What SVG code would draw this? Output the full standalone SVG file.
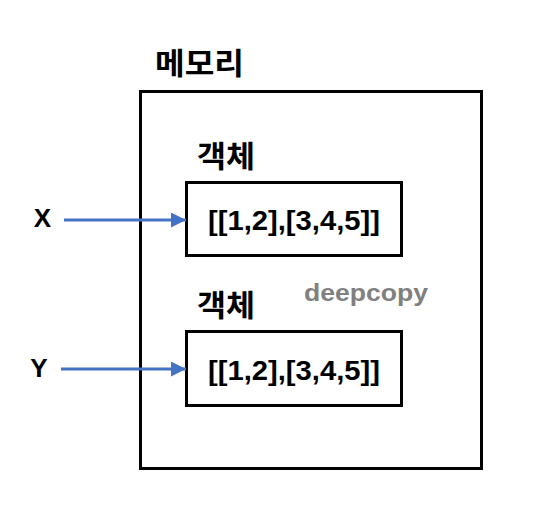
<svg xmlns="http://www.w3.org/2000/svg" width="544" height="510" viewBox="0 0 544 510">
<defs>
<style>
.box{fill:none;stroke:#000;stroke-width:3}
.kr{font-family:"Noto Sans CJK KR","Noto Sans",sans-serif;font-weight:bold;font-size:30px;fill:#000}
.lt{font-family:"Liberation Sans",Arial,sans-serif;font-weight:bold;font-size:28px;fill:#000}
.var{font-family:"Liberation Sans",Arial,sans-serif;font-weight:bold;font-size:26px;fill:#000}
.arr{stroke:#4472C4;stroke-width:3;fill:none}
</style>
<marker id="ah" markerWidth="5" markerHeight="5" refX="5" refY="2.5" orient="auto" markerUnits="strokeWidth">
<path d="M0,0 L5,2.5 L0,5 Z" fill="#4472C4"/>
</marker>
</defs>
<rect width="544" height="510" fill="#fff"/>
<g id="memory">
<rect class="box" x="140.5" y="91.5" width="341" height="377"/>
<text class="kr" x="155" y="74" textLength="89" lengthAdjust="spacingAndGlyphs">메모리</text>
</g>
<g id="obj1">
<text class="kr" x="197" y="167" textLength="58" lengthAdjust="spacingAndGlyphs">객체</text>
<rect class="box" x="186.5" y="182.5" width="215" height="73"/>
<text class="lt" x="208" y="230" textLength="172" lengthAdjust="spacingAndGlyphs">[[1,2],[3,4,5]]</text>
</g>
<g id="obj2">
<text class="kr" x="197" y="316" textLength="58" lengthAdjust="spacingAndGlyphs">객체</text>
<rect class="box" x="186.5" y="331.5" width="215" height="74"/>
<text class="lt" x="208" y="380" textLength="172" lengthAdjust="spacingAndGlyphs">[[1,2],[3,4,5]]</text>
</g>
<g id="deepcopy">
<text x="304" y="301" font-family="Liberation Sans,Arial,sans-serif" font-weight="bold" font-size="23" fill="#808080" textLength="124" lengthAdjust="spacingAndGlyphs">deepcopy</text>
</g>
<g id="varX">
<text class="var" x="42.5" y="227" text-anchor="middle">X</text>
</g>
<g id="varY">
<text class="var" x="39" y="377" text-anchor="middle">Y</text>
</g>
<g id="connectors">
<line class="arr" x1="64" y1="220" x2="186" y2="220" marker-end="url(#ah)"/>
<line class="arr" x1="61" y1="369" x2="186" y2="369" marker-end="url(#ah)"/>
</g>
</svg>
